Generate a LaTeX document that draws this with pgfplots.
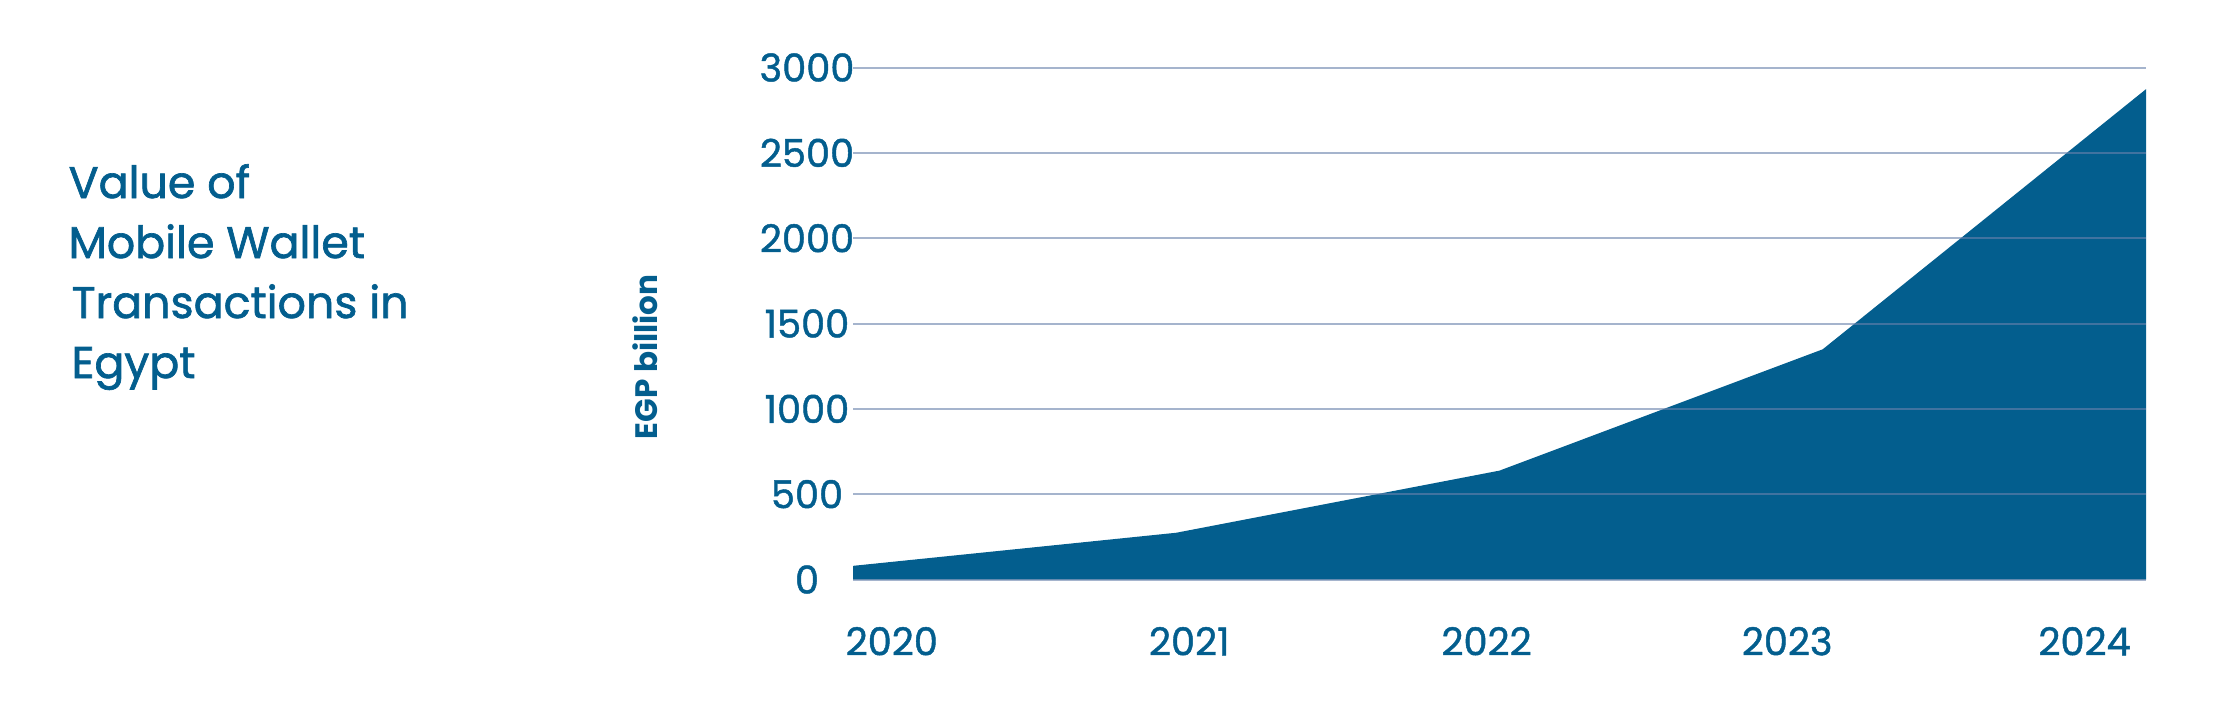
\documentclass[border=0pt]{standalone}
\usepackage{pgfplots}
\pgfplotsset{compat=1.18}
\usepackage{fontspec}
\setmainfont{Poppins}
\newfontfamily\ptitle{Poppins}[FakeBold=1.5]
\newfontfamily\ptick{Poppins}[FakeBold=1.2]
\definecolor{mblue}{RGB}{3,94,142}
\definecolor{gridc}{RGB}{105,130,172}
\begin{document}
\begin{tikzpicture}[x=1pt,y=1pt]
\path[use as bounding box] (0,0) rectangle (664.8,212.4);
% title (px -> pt at 0.3)
\node[anchor=base west, inner sep=0, text=mblue, font=\ptitle\fontsize{13.3}{15}\selectfont] at (20.4,153.0) {Value of};
\node[anchor=base west, inner sep=0, text=mblue, font=\ptitle\fontsize{13.3}{15}\selectfont] at (20.4,135.0) {Mobile Wallet};
\node[anchor=base west, inner sep=0, text=mblue, font=\ptitle\fontsize{13.3}{15}\selectfont] at (21.3,117.0) {Transactions in};
\node[anchor=base west, inner sep=0, text=mblue, font=\ptitle\fontsize{13.3}{15}\selectfont] at (21.3,99.0) {Egypt};
% y label
\node[rotate=90, inner sep=0, text=mblue, font=\fontsize{9.3}{11}\selectfont\bfseries] at (193.5,105.3) {EGP billion};
\begin{axis}[
  at={(255.9pt,38.55pt)}, anchor=south west,
  scale only axis, width=387.9pt, height=153.6pt,
  xmin=0, xmax=4, ymin=0, ymax=3000,
  axis line style={draw=none},
  major tick length=0pt,
  ytick={0,500,1000,1500,2000,2500,3000},
  xtick={0.12,1.04,1.96,2.89,3.81},
  xticklabels={2020,2021,2022,2023,2024},
  ymajorgrids,
  grid style={draw=gridc, line width=0.6pt, opacity=0.6},
  axis on top,
  /pgf/number format/assume math mode=true,
  /pgf/number format/1000 sep={},
  ticklabel style={text=mblue, font=\ptick\fontsize{11.5}{13}\selectfont, inner sep=0pt},
  yticklabel style={anchor=center, xshift=-13.8pt},
  xticklabel style={anchor=center, yshift=-18.5pt},
  clip=false,
]
\addplot[fill=mblue, draw=none] coordinates {
  (0,80) (1,274) (2,638) (3,1349) (4,2873)
} \closedcycle;
\end{axis}
\end{tikzpicture}
\end{document}
